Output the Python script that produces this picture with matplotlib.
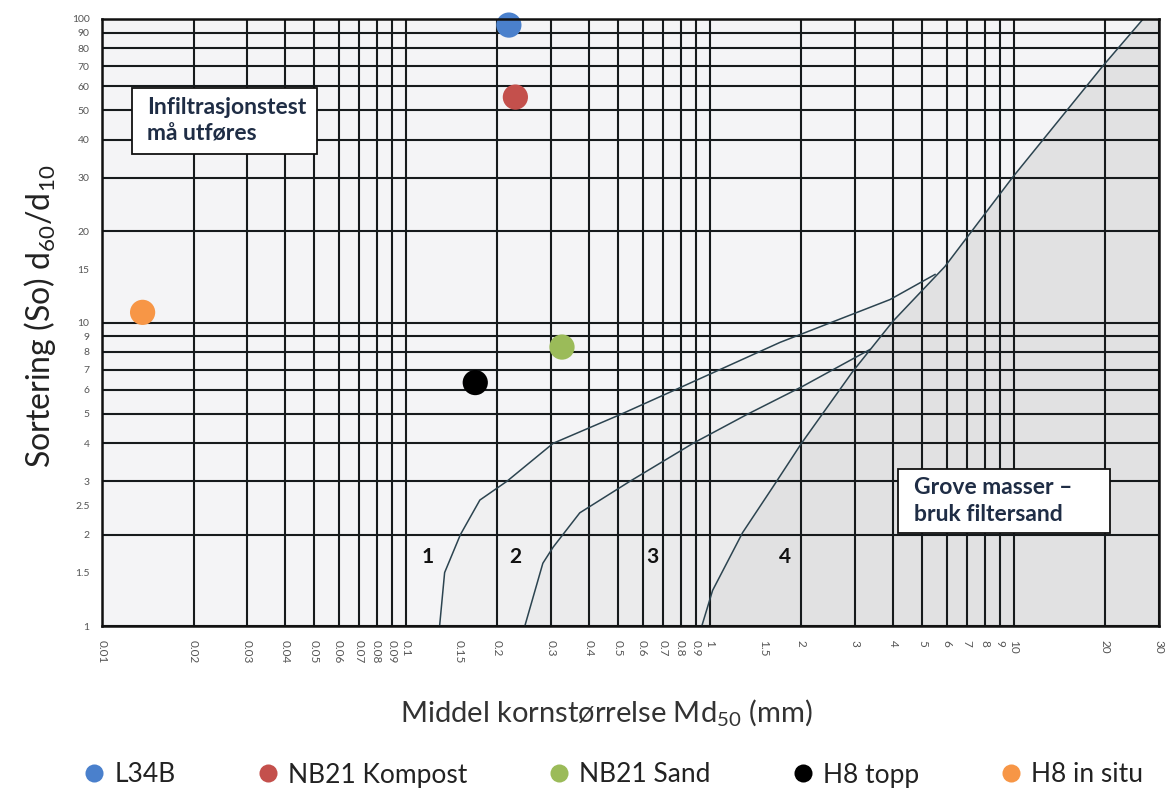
"""
Sorteringsdiagram: sortering (So) mot middel kornstørrelse Md50,
med soner 1-4 og målte prøver.
"""

import matplotlib
matplotlib.use('Agg')
import matplotlib.pyplot as plt
from matplotlib.lines import Line2D
from matplotlib.patches import Rectangle
import numpy as np

plt.rcParams['font.family'] = ['Lato', 'DejaVu Sans']
plt.rcParams['mathtext.default'] = 'regular'

# Grensekurver (Md50 i mm, So = d60/d10)
kurve1_md = [0.129, 0.134, 0.151, 0.175, 0.215, 0.305, 0.506, 0.797, 1.70, 3.91, 5.5]
kurve1_so = [1.0, 1.5, 2.0, 2.6, 3.0, 4.0, 4.97, 6.1, 8.6, 11.9, 14.4]
kurve2_md = [0.246, 0.282, 0.305, 0.373, 0.546, 0.88, 1.32, 2.01, 3.36]
kurve2_so = [1.0, 1.61, 1.82, 2.36, 3.0, 4.0, 4.97, 6.15, 8.15]
kurve4_md = [0.94, 1.02, 1.28, 1.61, 2.0, 2.95, 4.0, 5.93, 9.9, 19.6, 26.6]
kurve4_so = [1.0, 1.31, 2.03, 2.87, 4.0, 6.9, 10.1, 15.3, 30.1, 70, 100]

# Prøvepunkter
punkt_navn = ['L34B', 'NB21 Kompost', 'NB21 Sand', 'H8 topp', 'H8 in situ']
punkt_md = [0.218, 0.229, 0.326, 0.169, 0.0136]
punkt_so = [95.5, 55.3, 8.3, 6.34, 10.8]
punkt_farge = ['#4a80cc', '#c4504c', '#9bbb59', '#000000', '#f79646']

# Rutenett og aksetekster
grid_x = [0.01, 0.02, 0.03, 0.04, 0.05, 0.06, 0.07, 0.08, 0.09,
          0.1, 0.2, 0.3, 0.4, 0.5, 0.6, 0.7, 0.8, 0.9,
          1, 2, 3, 4, 5, 6, 7, 8, 9, 10, 20, 30]
grid_y = [1, 2, 3, 4, 5, 6, 7, 8, 9, 10, 20, 30, 40, 50, 60, 70, 80, 90, 100]
xtick_verdier = [0.01, 0.02, 0.03, 0.04, 0.05, 0.06, 0.07, 0.08, 0.09, 0.1, 0.15,
                 0.2, 0.3, 0.4, 0.5, 0.6, 0.7, 0.8, 0.9, 1, 1.5,
                 2, 3, 4, 5, 6, 7, 8, 9, 10, 20, 30]
xtick_tekst = ['0.01', '0.02', '0.03', '0.04', '0.05', '0.06', '0.07', '0.08', '0.09', '0.1', '0.15',
               '0.2', '0.3', '0.4', '0.5', '0.6', '0.7', '0.8', '0.9', '1', '1.5',
               '2', '3', '4', '5', '6', '7', '8', '9', '10', '20', '30']
ytick_verdier = [1, 1.5, 2, 2.5, 3, 4, 5, 6, 7, 8, 9, 10, 15, 20, 30, 40, 50, 60, 70, 80, 90, 100]
ytick_tekst = ['1', '1.5', '2', '2.5', '3', '4', '5', '6', '7', '8', '9', '10', '15',
               '20', '30', '40', '50', '60', '70', '80', '90', '100']

# Sonenummer og plassering
sone_tekst = ['1', '2', '3', '4']
sone_md = [0.118, 0.229, 0.644, 1.76]
sone_so = [1.69, 1.69, 1.69, 1.69]

W, H = 1168, 792
AX_L, AX_R, AX_T, AX_B = 102, 1159, 19, 626


def ax_frac(px, py):
    """pikselposisjon -> akse-brøk"""
    return (px - AX_L) / (AX_R - AX_L), (AX_B - py) / (AX_B - AX_T)


def logsnitt(md, so, niva):
    """finn Md50 på en kurve ved gitt So (log-interpolasjon)"""
    return 10 ** np.interp(np.log10(niva), np.log10(so), np.log10(md))


fig = plt.figure(figsize=(W / 100, H / 100), dpi=100)
ax = fig.add_axes([AX_L / W, 1 - AX_B / H, (AX_R - AX_L) / W, (AX_B - AX_T) / H])
ax.set_xscale('log')
ax.set_yscale('log')
ax.set_xlim(0.01, 30)
ax.set_ylim(1, 100)
ax.set_facecolor('#f4f4f6')

# soner (skravering)
k1x, k1y = np.array(kurve1_md), np.array(kurve1_so)
k2x, k2y = np.array(kurve2_md), np.array(kurve2_so)
k4x, k4y = np.array(kurve4_md), np.array(kurve4_so)
so_12 = k2y[-1]
so_14 = k1y[-1]
md_12 = logsnitt(k4x, k4y, so_12)
md_14 = logsnitt(k4x, k4y, so_14)

# sone 4
ax.fill(np.r_[k4x, 30, 30], np.r_[k4y, 100, 1], color='#e1e1e2', lw=0, zorder=0)
# sone 3
lav = k4y < so_12
ax.fill(np.r_[k2x, md_12, k4x[lav][::-1]], np.r_[k2y, so_12, k4y[lav][::-1]],
        color='#ebebec', lw=0, zorder=0)
# sone 2
mid = (k4y > so_12) & (k4y < so_14)
ax.fill(np.r_[k1x, md_14, k4x[mid][::-1], md_12, k2x[::-1]],
        np.r_[k1y, so_14, k4y[mid][::-1], so_12, k2y[::-1]],
        color='#f0f0f1', lw=0, zorder=0)

for gx in grid_x:
    ax.axvline(gx, color='#161a1c', lw=1.5, zorder=1)
for gy in grid_y:
    ax.axhline(gy, color='#161a1c', lw=1.5, zorder=1)

kurve_farge = '#2c4450'
ax.plot(kurve1_md, kurve1_so, color=kurve_farge, lw=1.1, zorder=2)
ax.plot(kurve2_md, kurve2_so, color=kurve_farge, lw=1.1, zorder=2)
ax.plot(kurve4_md, kurve4_so, color=kurve_farge, lw=1.1, zorder=2)

for t, x, y in zip(sone_tekst, sone_md, sone_so):
    ax.text(x, y, t, fontsize=15, fontweight='bold', color='#111111',
            ha='center', va='center', zorder=3)

ax.scatter(punkt_md, punkt_so, s=330, c=punkt_farge, linewidths=0, zorder=4, clip_on=False)

# tekstbokser
tekst_farge = '#1f2d45'
for (x0, y0, x1, y1), (tx, ty), tekst in [
        ((132, 88, 317, 154), (147, 121), 'Infiltrasjonstest\nmå utføres'),
        ((898, 469, 1110, 533), (914, 501), 'Grove masser –\nbruk filtersand')]:
    fx0, fy1 = ax_frac(x0, y1)
    fx1, fy0 = ax_frac(x1, y0)
    ax.add_patch(Rectangle((fx0, fy1), fx1 - fx0, fy0 - fy1, transform=ax.transAxes,
                           facecolor='white', edgecolor='#111111', lw=1.3, zorder=5))
    fx, fy = ax_frac(tx, ty)
    ax.text(fx, fy, tekst, transform=ax.transAxes, fontsize=16.5, fontweight='bold',
            color=tekst_farge, ha='left', va='center', linespacing=1.3, zorder=6)

# akser
for s in ax.spines.values():
    s.set_color('#111111')
    s.set_linewidth(1.8)
    s.set_zorder(7)
ax.set_xticks(xtick_verdier)
ax.set_xticklabels(xtick_tekst, rotation=-90, fontsize=8.5, color='#555555')
ax.set_yticks(ytick_verdier)
ax.set_yticklabels(ytick_tekst, fontsize=7.5, color='#555555')
ax.minorticks_off()
ax.tick_params(axis='x', length=0, pad=10)
ax.tick_params(axis='y', length=0, pad=9)

fig.text(606 / W, 1 - 712 / H, 'Middel kornstørrelse Md$_{50}$ (mm)',
         fontsize=21, color='#333333', ha='center', va='center')
fig.text(40 / W, 1 - 316 / H, 'Sortering (So) d$_{60}$/d$_{10}$',
         fontsize=23, color='#222222', ha='center', va='center', rotation=90)

handles = [Line2D([], [], marker='o', ls='', markersize=13, markerfacecolor=f,
                  markeredgewidth=0, label=n) for n, f in zip(punkt_navn, punkt_farge)]
fig.legend(handles=handles, loc='center', bbox_to_anchor=(0.524, 1 - 775 / H), ncol=5,
           frameon=False, fontsize=19, columnspacing=3.0, handlelength=1.0,
           handletextpad=0.25, labelcolor='#222222')

fig.savefig('out.png', dpi=100, facecolor='white')
